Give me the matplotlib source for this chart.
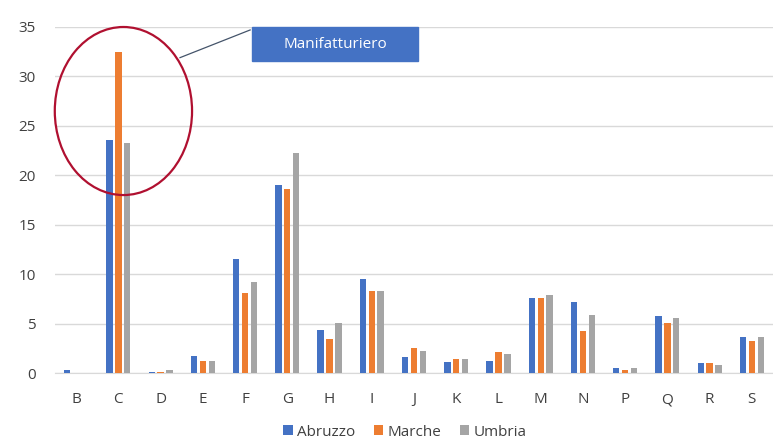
import matplotlib
matplotlib.use("Agg")
import matplotlib.pyplot as plt
import numpy as np
from matplotlib.patches import Ellipse, Rectangle

categories = ["B", "C", "D", "E", "F", "G", "H", "I", "J", "K", "L", "M", "N", "P", "Q", "R", "S"]
abruzzo = [0.3, 23.6, 0.1, 1.7, 11.5, 19.0, 4.3, 9.5, 1.6, 1.1, 1.2, 7.6, 7.2, 0.5, 5.8, 1.0, 3.6]
marche = [0.0, 32.5, 0.15, 1.2, 8.1, 18.6, 3.4, 8.3, 2.5, 1.4, 2.1, 7.6, 4.2, 0.3, 5.1, 1.0, 3.2]
umbria = [0.0, 23.3, 0.3, 1.2, 9.2, 22.3, 5.1, 8.3, 2.2, 1.4, 1.9, 7.9, 5.9, 0.5, 5.6, 0.8, 3.6]
series_names = ["Abruzzo", "Marche", "Umbria"]
colors = ["#4472C4", "#ED7D31", "#A5A5A5"]
yticks = [0, 5, 10, 15, 20, 25, 30, 35]
label_text = "Manifatturiero"

plt.rcParams['font.family'] = ['Open Sans', 'DejaVu Sans']

fig = plt.figure(figsize=(7.73, 4.48), dpi=100)
ax = fig.add_axes([55/773, 1-373/448, 718/773, 346/448])

x = np.arange(len(categories))
bw = 0.15
step = 0.21
for i, (vals, name, c) in enumerate(zip([abruzzo, marche, umbria], series_names, colors)):
    ax.bar(x + (i-1)*step, vals, width=bw, color=c, label=name, zorder=3)

ax.set_xlim(-0.5, len(categories)-0.5)
ax.set_ylim(0, 35)
ax.set_yticks(yticks)
ax.set_xticks(x)
ax.set_xticklabels(categories)
ax.grid(axis='y', color='#D9D9D9', linewidth=1, zorder=0)
for s in ['top', 'right', 'left']:
    ax.spines[s].set_visible(False)
ax.spines['bottom'].set_color('#D9D9D9')
ax.tick_params(axis='both', length=0, labelsize=11, colors='#404040')
ax.tick_params(axis='y', pad=14)
ax.tick_params(axis='x', pad=14)

# Annotation ellipse around C
ell = Ellipse((1.12, 26.5), width=3.25, height=17.0, fill=False, edgecolor='#B01030',
              linewidth=1.6, zorder=5, clip_on=False)
ax.add_patch(ell)
# connector line
ax.plot([2.46, 4.12], [31.9, 34.7], color='#44546A', lw=0.9, zorder=5, clip_on=False)
# label box
box = Rectangle((4.17, 31.55), 3.92, 3.45, fc='#4472C4', ec='#4472C4', zorder=6, clip_on=False)
ax.add_patch(box)
ax.text(4.17 + 3.92/2, 31.55 + 3.45/2, label_text, ha='center', va='center',
        fontsize=11, color='white', zorder=7)

leg = fig.legend(loc='center', bbox_to_anchor=(405/773, 1-432/448), ncol=3, frameon=False,
                 fontsize=11, handlelength=0.6, handleheight=0.6, handletextpad=0.3,
                 columnspacing=1.2)
for t in leg.get_texts():
    t.set_color('#404040')

fig.savefig("out.png", dpi=100)
